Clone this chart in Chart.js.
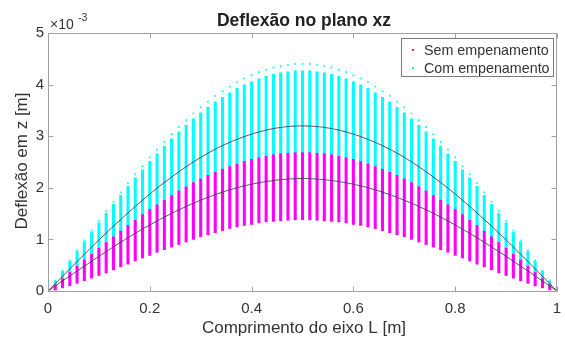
<!DOCTYPE html>
<html><head><meta charset="utf-8">
<script src="https://cdn.jsdelivr.net/npm/chart.js@4/dist/chart.umd.min.js"></script>
<style>html,body{margin:0;padding:0;background:#fff;}#wrap{width:565px;height:340px;}</style>
</head><body><div id="wrap"><canvas id="c" width="565" height="340"></canvas></div>
<script>
// x positions of the sampled columns (comprimento do eixo L [m])
const xPositions = [0,0.0143,0.0286,0.0429,0.0571,0.0714,0.0857,0.1,0.1143,0.1286,0.1429,0.1571,0.1714,0.1857,0.2,0.2143,0.2286,0.2429,0.2571,0.2714,0.2857,0.3,0.3143,0.3286,0.3429,0.3571,0.3714,0.3857,0.4,0.4143,0.4286,0.4429,0.4571,0.4714,0.4857,0.5,0.5143,0.5286,0.5429,0.5571,0.5714,0.5857,0.6,0.6143,0.6286,0.6429,0.6571,0.6714,0.6857,0.7,0.7143,0.7286,0.7429,0.7571,0.7714,0.7857,0.8,0.8143,0.8286,0.8429,0.8571,0.8714,0.8857,0.9,0.9143,0.9286,0.9429,0.9571,0.9714,0.9857,1];
// values in units of 1e-3 m
const semLow = [0,0.02,0.06,0.10,0.15,0.20,0.25,0.30,0.35,0.41,0.47,0.52,0.58,0.64,0.69,0.75,0.80,0.85,0.90,0.95,1.00,1.05,1.09,1.13,1.17,1.21,1.24,1.27,1.29,1.32,1.34,1.35,1.36,1.37,1.38,1.38,1.38,1.37,1.36,1.35,1.34,1.32,1.29,1.27,1.24,1.21,1.17,1.13,1.09,1.05,1.00,0.95,0.90,0.85,0.80,0.75,0.69,0.64,0.58,0.52,0.47,0.41,0.35,0.30,0.25,0.20,0.15,0.10,0.06,0.02,0];
const semHigh = [0,0.12,0.24,0.36,0.48,0.60,0.71,0.83,0.94,1.05,1.16,1.27,1.37,1.48,1.58,1.67,1.76,1.85,1.94,2.02,2.10,2.17,2.24,2.30,2.36,2.41,2.46,2.51,2.55,2.58,2.61,2.64,2.66,2.67,2.68,2.68,2.68,2.67,2.66,2.64,2.61,2.58,2.55,2.51,2.46,2.41,2.36,2.30,2.24,2.17,2.10,2.02,1.94,1.85,1.76,1.67,1.58,1.48,1.37,1.27,1.16,1.05,0.94,0.83,0.71,0.60,0.48,0.36,0.24,0.12,0];
const comHigh = [0,0.20,0.39,0.59,0.79,0.98,1.17,1.36,1.55,1.73,1.91,2.09,2.26,2.42,2.59,2.74,2.89,3.04,3.18,3.31,3.44,3.56,3.67,3.78,3.87,3.96,4.05,4.12,4.18,4.24,4.29,4.33,4.36,4.38,4.40,4.40,4.40,4.38,4.36,4.33,4.29,4.24,4.18,4.12,4.05,3.96,3.87,3.78,3.67,3.56,3.44,3.31,3.18,3.04,2.89,2.74,2.59,2.42,2.26,2.09,1.91,1.73,1.55,1.36,1.17,0.98,0.79,0.59,0.39,0.20,0];
// mean curves
const curveX = [0,0.05,0.1,0.15,0.2,0.25,0.3,0.35,0.4,0.45,0.5,0.55,0.6,0.65,0.7,0.75,0.8,0.85,0.9,0.95,1];
const semCurve = [0,0.34,0.67,0.99,1.28,1.54,1.76,1.94,2.07,2.15,2.18,2.15,2.07,1.94,1.76,1.54,1.28,0.99,0.67,0.34,0];
const comCurve = [0,0.50,0.99,1.45,1.88,2.26,2.59,2.85,3.04,3.16,3.20,3.16,3.04,2.85,2.59,2.26,1.88,1.45,0.99,0.50,0];
const xTicks = [0,0.2,0.4,0.6,0.8,1];
const yTicks = [0,1,2,3,4,5];
const seriesNames = ['Sem empenamento','Com empenamento'];
const seriesColors = ['#ff00ff','#00ffff'];

const FONT = '"Liberation Sans", Arial, Helvetica, sans-serif';
const TXT = '#333333';

const decor = {
  id:'decor',
  afterDatasetsDraw(chart){
    const c = chart.ctx, a = chart.chartArea;
    const xs = chart.scales.x, ys = chart.scales.y;
    c.save();
    c.strokeStyle = '#a0a0a0'; c.lineWidth = 1;
    const L = Math.round(a.left)+0.5, R = Math.round(a.right)-0.5, T = Math.round(a.top)+0.5, B = Math.round(a.bottom)+0.5;
    c.beginPath(); c.rect(L,T,R-L,B-T); c.stroke();
    c.beginPath();
    xTicks.forEach(v=>{ const px = Math.round(xs.getPixelForValue(v))+0.5; c.moveTo(px,B); c.lineTo(px,B-5); c.moveTo(px,T); c.lineTo(px,T+5); });
    yTicks.forEach(v=>{ const py = Math.round(ys.getPixelForValue(v))+0.5; c.moveTo(L,py); c.lineTo(L+5,py); c.moveTo(R,py); c.lineTo(R-5,py); });
    c.stroke();
    // legend
    c.fillStyle = '#fff'; c.fillRect(401.5,38.5,152,38);
    c.strokeStyle = '#7a7a7a'; c.strokeRect(401.5,38.5,152,38);
    c.font = '14.3px '+FONT; c.textBaseline = 'middle'; c.textAlign = 'left';
    seriesNames.forEach((n,i)=>{
      const y = 51 + i*18;
      c.fillStyle = seriesColors[i]; c.fillRect(412, y-2, 2, 2);
      c.fillStyle = TXT; c.fillText(n, 424, y);
    });
    // title
    c.fillStyle = '#222'; c.textAlign = 'center'; c.textBaseline = 'alphabetic';
    c.font = 'bold 17.5px '+FONT; c.fillText('Deflexão no plano xz', 304, 26);
    // x label
    c.font = '17px '+FONT; c.fillStyle = TXT; c.fillText('Comprimento do eixo L [m]', 304, 333);
    // y label
    c.save(); c.translate(22.5,161); c.rotate(-Math.PI/2); c.textBaseline='middle';
    c.fillText('Deflexão em z [m]', 0, 0); c.restore();
    // exponent
    c.textAlign = 'left'; c.font = '14px '+FONT; c.fillText('\u00d710', 50, 29);
    c.font = '10.5px '+FONT; c.fillText('-3', 78, 21);
    c.restore();
  }
};

new Chart(document.getElementById('c'), {
  type:'bar',
  data:{ datasets:[
    {type:'line', label:'curve1', data: curveX.map((x,i)=>({x, y: semCurve[i]})), borderColor:'rgba(60,60,60,0.85)', borderWidth:1, pointRadius:0, cubicInterpolationMode:'monotone', order:0},
    {type:'line', label:'curve2', data: curveX.map((x,i)=>({x, y: comCurve[i]})), borderColor:'rgba(60,60,60,0.85)', borderWidth:1, pointRadius:0, cubicInterpolationMode:'monotone', order:0},
    {type:'bar', label:seriesNames[0], data: xPositions.map((x,i)=>({x, y:[semLow[i], semHigh[i]]})), backgroundColor:seriesColors[0], barThickness:2.4, grouped:false, order:1},
    {type:'bar', label:seriesNames[1], data: xPositions.map((x,i)=>({x, y:[semHigh[i], comHigh[i]*0.97]})), backgroundColor:seriesColors[1], barThickness:2.4, grouped:false, order:2},
    {type:'scatter', label:'tops', data: xPositions.map((x,i)=>({x, y: comHigh[i]})), pointStyle:'rect', pointRadius:1.2, backgroundColor:seriesColors[1], borderWidth:0, order:2}
  ]},
  options:{
    responsive:false, animation:false, devicePixelRatio:1,
    layout:{padding:{top:33,right:8,left:0,bottom:0}},
    plugins:{legend:{display:false}, tooltip:{enabled:false}, title:{display:false}},
    scales:{
      x:{type:'linear', min:0, max:1, offset:false,
         grid:{display:false, drawTicks:false}, border:{display:false},
         afterBuildTicks: s=>{ s.ticks = xTicks.map(v=>({value:v})); },
         ticks:{padding:9, color:TXT, font:{family:FONT, size:15}, maxRotation:0, callback:v=>String(Math.round(v*10)/10)},
         afterFit: s=>{ s.height = 49; s.paddingLeft = 0; s.paddingRight = 0; }},
      y:{type:'linear', min:0, max:5,
         grid:{display:false, drawTicks:false}, border:{display:false},
         afterBuildTicks: s=>{ s.ticks = yTicks.map(v=>({value:v})); },
         ticks:{padding:4, color:TXT, font:{family:FONT, size:15}, callback:v=>String(v)},
         afterFit: s=>{ s.width = 48; s.paddingTop = 0; s.paddingBottom = 0; }}
    }
  },
  plugins:[decor]
});
</script></body></html>
